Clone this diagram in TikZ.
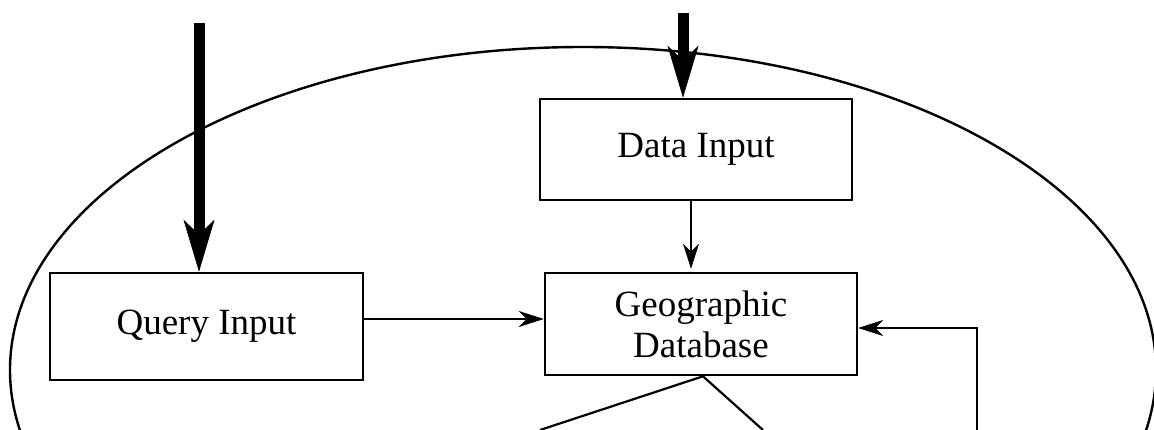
\documentclass[tikz,border=0pt]{standalone}
\usepackage{fontspec}
\setmainfont{Liberation Serif}
\usetikzlibrary{arrows.meta}
\tikzset{
  box/.style={draw, line width=2.6pt, rectangle, inner sep=0pt, align=center,
    font=\fontsize{37}{41}\selectfont},
  conn/.style={line width=2.2pt, -{Stealth[length=25pt, width=16pt, inset=8pt, line width=0.5pt]}},
  plain/.style={line width=2.2pt},
  bigarrow/.style={line width=11pt, -{Stealth[length=52pt, width=31pt, inset=15pt, line width=0.5pt]}},
  oval/.style={draw, line width=2.4pt}
}
\begin{document}
\begin{tikzpicture}[x=1pt, y=-1pt]
\useasboundingbox (0,0) rectangle (1154,430);
\clip (0,0) rectangle (1154,430);
\fill[white] (0,0) rectangle (1154,430);
\draw[oval] (583,370) ellipse [x radius=573, y radius=323];
\node[box, minimum width=312pt, minimum height=101pt] (data) at (696,149.5) {Data Input};
\node[box, minimum width=312pt, minimum height=102pt] (geo) at (701,324) {Geographic\\Database};
\node[box, minimum width=313pt, minimum height=107pt] (query) at (206.5,326.5) {Query Input};
\coordinate (qtop) at (199,23);
\coordinate (dtop) at (683,13);
\draw[bigarrow] (qtop) -- (qtop |- query.north);
\draw[bigarrow] (dtop) -- (dtop |- data.north);
\coordinate (dg) at (691,0);
\draw[conn] (dg |- data.south) -- ([yshift=3pt]dg |- geo.north);
\coordinate (qy) at (0,319);
\draw[conn] (qy -| query.east) -- (qy -| geo.west);
\coordinate (fb) at (977,430);
\coordinate (fc) at (977,328);
\draw[conn] (fb) -- (fc) -- (fc -| geo.east);
\coordinate (ap) at (703,0);
\coordinate (l1) at (540,430);
\coordinate (l2) at (763,430);
\draw[plain] (l1) -- (ap |- geo.south) -- (l2);
\end{tikzpicture}
\end{document}
